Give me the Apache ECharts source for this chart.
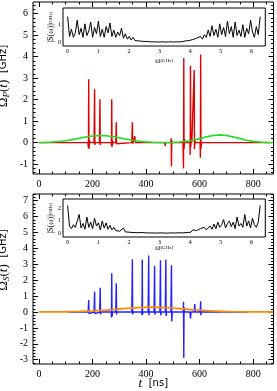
<!DOCTYPE html>
<html><head><meta charset="utf-8">
<script src="https://cdn.jsdelivr.net/npm/echarts@6/dist/echarts.min.js"></script>
<style>html,body{margin:0;padding:0;background:#fff}#c{width:277px;height:391px}</style>
</head><body><div id="c"></div>
<script>
// ---------- DATA ----------
// Top panel: Omega_P(t) pulse train (red) [t ns, value GHz]
const redT = [0,183,185,186,187,189,191,206,208,209,211,226,228,229,231,270,271,272,273,275,277,287,289,290,292,347,349,350,352,356,358,360,470,472,473,493,494,495,496,498,538,540,541,542,544,546,564,565,566,567,569,571,578,580,581,583,585,602,603,604,605,607,870];
const redV = [0,0,-0.25,2.95,-0.3,0.1,0,0,2.48,-0.1,0,0,2.02,-0.1,0,0,-0.15,2.02,-0.2,0.1,0,0,0.95,-0.05,0,0,0.95,-0.05,0,0,0.3,0,0,-0.15,0,0,0.2,-1.1,0.1,0,0,-1.2,3.93,-0.3,0.15,0,0,-0.57,3.58,-0.2,0.2,0,0,3.38,-0.3,0.1,0,0,-0.7,4.1,-0.3,0,0];
// Top panel: smooth envelope (green), sampled every 25 ns from 0
const envT = [0,25,50,75,100,125,150,175,200,225,250,275,300,325,350,375,400,425,450,475,500,525,550,575,600,625,650,675,700,725,750,775,800,825,850,875];
const greenV = [0.005,0.012,0.026,0.05,0.088,0.14,0.2,0.26,0.308,0.33,0.32,0.282,0.225,0.163,0.107,0.064,0.035,0.017,0.008,0.006,0.01,0.025,0.057,0.11,0.185,0.268,0.334,0.36,0.334,0.268,0.185,0.11,0.057,0.025,0.01,0.003];
// Bottom panel: Omega_S(t) pulse train (blue)
const blueT = [110,184,185,186,187,189,206,207,208,209,211,227,228,229,230,232,270,271,272,273,275,287,289,290,292,347,348,349,350,352,384,385,386,387,389,408,410,411,413,430,432,433,435,452,454,455,457,472,474,475,477,493,495,496,498,539,540,541,542,544,564,566,568,580,582,584,602,604,605,607,780];
const blueV = [0,0,-0.1,0.75,-0.1,0,0,-0.1,1.28,-0.1,0,0,-0.1,1.53,-0.15,0,0,-0.35,2.43,-0.3,0,0,1.8,-0.15,0,0,-0.1,3.31,-0.15,0,0,-0.2,3.3,-0.15,0,0,3.55,-0.2,0,0,2.9,-0.15,0,0,3.25,-0.2,0,0,3.3,-0.25,0,0,2.94,-0.6,0,0,0.65,-2.9,0.3,0,0,-0.4,0,0,0.5,0,0,0.67,-0.2,0,0];
// Bottom panel: smooth envelope (orange), same sampling as envT
const orangeV = [0.002,0.0033,0.0057,0.0094,0.015,0.023,0.035,0.05,0.07,0.095,0.123,0.155,0.189,0.222,0.252,0.276,0.293,0.3,0.296,0.278,0.249,0.213,0.174,0.135,0.115,0.088,0.065,0.047,0.032,0.021,0.013,0.008,0.005,0.003,0.002,0.001];
// Insets: spectra |S(omega)|, 101 samples over omega in [0, 2pi]
const omegaStep = 2 * Math.PI / 100;
const specP = [1.45,0.35,0.75,0.3,0.55,1.25,0.45,0.8,0.3,1.05,
  0.4,0.65,1.15,0.3,0.85,0.5,1.2,0.35,0.75,0.3,
  0.9,0.55,1.1,0.35,0.7,0.3,0.6,0.4,0.8,0.25,
  0.5,0.2,0.35,0.15,0.3,0.12,0.22,0.1,0.15,0.08,
  0.12,0.07,0.1,0.05,0.08,0.05,0.07,0.04,0.06,0.05,
  0.07,0.04,0.06,0.05,0.07,0.04,0.06,0.05,0.08,0.05,
  0.07,0.1,0.06,0.12,0.08,0.18,0.1,0.25,0.15,0.35,
  0.2,0.45,0.3,0.7,0.35,0.95,0.4,0.75,0.3,1.05,
  0.45,0.85,0.35,1.2,0.5,0.9,0.3,1.15,0.4,0.7,
  0.35,1.0,0.3,0.8,0.5,1.25,0.6,0.3,0.9,0.45,1.45];
const specS = [2.2,0.6,0.4,0.7,0.5,1.0,1.5,0.45,0.8,0.35,
  1.3,0.5,0.9,0.4,1.2,0.6,0.85,0.3,1.0,0.45,
  0.85,0.35,0.65,0.3,0.5,0.25,0.4,0.2,0.35,0.45,
  0.15,0.3,0.12,0.25,0.1,0.18,0.08,0.15,0.1,0.12,
  0.08,0.1,0.06,0.12,0.07,0.09,0.05,0.1,0.07,0.08,
  0.06,0.09,0.05,0.1,0.07,0.08,0.06,0.1,0.08,0.12,
  0.07,0.15,0.1,0.2,0.12,0.3,0.15,0.25,0.2,0.4,
  0.25,0.5,0.3,0.45,0.6,0.35,0.75,0.4,0.9,0.5,
  0.7,1.1,0.45,0.8,1.0,0.55,0.9,0.4,1.3,0.6,
  0.8,0.5,1.5,0.6,1.0,0.45,1.2,0.7,0.5,0.9,2.2];
// Tick labels
const tTicks = [0,200,400,600,800];
const yTopTicks = [-1,0,1,2,3,4,5,6];
const yBotTicks = [-3,-2,-1,0,1,2,3,4,5,6,7];
const wTicks = [0,1,2,3,4,5,6];
const sTopTicks = [0,1];
const sBotTicks = [0,1,2];

// ---------- BUILD ----------
function range(a, b, s) { const r = []; for (let v = a; v <= b + 1e-9; v += s) r.push(Math.round(v * 1000) / 1000); return r; }
function pairs(xs, ys) { return xs.map((x, i) => [x, ys[i]]); }
function specPairs(ys) { return ys.map((y, i) => [i * omegaStep, y]); }

const SERIF = 'Liberation Serif';
const xAxes = [], yAxes = [];
function addAxes(list, dim, grid, min, max, majors, minors, L, l, label, name) {
  const pos = dim === 'x' ? ['bottom', 'top'] : ['left', 'right'];
  const first = list.length;
  pos.forEach((p, pi) => {
    [[majors, L], [minors, l]].forEach(([vals, len], k) => {
      const ax = {
        type: 'value', gridIndex: grid, min, max, position: p,
        nameMoveOverlap: false,
        axisLine: { show: false, onZero: false },
        splitLine: { show: false },
        axisTick: { show: true, inside: true, length: len, customValues: vals, lineStyle: { color: '#000', width: 1 } },
        axisLabel: { show: false }
      };
      if (pi === 0 && k === 0) {
        ax.axisLabel = Object.assign({ show: true, customValues: vals, color: '#000', fontFamily: SERIF, hideOverlap: false }, label);
        if (name) Object.assign(ax, name);
      }
      list.push(ax);
    });
  });
  return first;
}

const gbase = { show: true, borderColor: '#000', borderWidth: 1, outerBoundsMode: 'none', containLabel: false };
const grids = [
  Object.assign({ left: 33, top: 2, width: 240.5, height: 172, backgroundColor: 'transparent', z: 1 }, gbase),
  Object.assign({ left: 33, top: 194, width: 240.5, height: 170, backgroundColor: 'transparent', z: 1 }, gbase),
  Object.assign({ left: 63, top: 8, width: 202.3, height: 38, backgroundColor: '#fff', z: 3 }, gbase),
  Object.assign({ left: 63, top: 199, width: 202.3, height: 38, backgroundColor: '#fff', z: 3 }, gbase)
];

const mainLbl = { fontSize: 10, margin: 5 };
const insLbl = { fontSize: 6, margin: 2 };
const richMain = {
  a: { fontFamily: SERIF, fontSize: 13, color: '#000' },
  s: { fontFamily: SERIF, fontSize: 9, fontStyle: 'italic', color: '#000', padding: [6, 0, 0, 0] },
  i: { fontFamily: SERIF, fontSize: 13, fontStyle: 'italic', color: '#000' },
  g: { fontFamily: 'DejaVu Sans', fontSize: 10, color: '#000' }
};
const richIns = {
  a: { fontFamily: SERIF, fontSize: 8, color: '#000' },
  g: { fontFamily: SERIF, fontSize: 5, color: '#000' }
};

const x0 = addAxes(xAxes, 'x', 0, -22, 876, tTicks, range(0, 850, 50), 5, 2.5, mainLbl);
const x1 = addAxes(xAxes, 'x', 1, -22, 876, tTicks, range(0, 850, 50), 5, 2.5, mainLbl,
  { name: '{i|t}  {g|[ns]}', nameLocation: 'middle', nameGap: 13, nameTextStyle: { rich: richMain } });
const x2 = addAxes(xAxes, 'x', 2, -0.15, 6.45, wTicks, range(0, 6.25, 0.25), 3, 1.5, insLbl,
  { name: '{a|ω}{g|[GHz]}', nameLocation: 'middle', nameGap: 11, nameTextStyle: { rich: richIns } });
const x3 = addAxes(xAxes, 'x', 3, -0.15, 6.45, wTicks, range(0, 6.25, 0.25), 3, 1.5, insLbl,
  { name: '{a|ω}{g|[GHz]}', nameLocation: 'middle', nameGap: 7, nameTextStyle: { rich: richIns } });

const y0 = addAxes(yAxes, 'y', 0, -1.46, 6.54, yTopTicks, range(-1.4, 6.4, 0.2), 5, 2.5, mainLbl,
  { name: '{a|Ω}{s|P}{a|(}{i|t}{a|)}  {g|[GHz]}', nameLocation: 'middle', nameGap: 22, nameRotate: 90,
    nameTextStyle: { rich: richMain, padding: [0, 0, 0, 24] } });
const y1 = addAxes(yAxes, 'y', 1, -3.27, 7.42, yBotTicks, range(-3.2, 7.4, 0.2), 5, 2.5, mainLbl,
  { name: '{a|Ω}{s|S}{a|(}{i|t}{a|)}  {g|[GHz]}', nameLocation: 'middle', nameGap: 22, nameRotate: 90,
    nameTextStyle: { rich: richMain, padding: [0, 0, 0, 38] } });
const y2 = addAxes(yAxes, 'y', 2, -0.18, 1.93, sTopTicks, range(0, 1.75, 0.25), 3, 1.5, insLbl,
  { name: '{a||S(ω)|}{g|[GHz]}', nameLocation: 'middle', nameGap: 8, nameRotate: 90, nameTextStyle: { rich: richIns } });
const y3 = addAxes(yAxes, 'y', 3, -0.25, 2.7, sBotTicks, range(0, 2.5, 0.25), 3, 1.5, insLbl,
  { name: '{a||S(ω)|}{g|[GHz]}', nameLocation: 'middle', nameGap: 8, nameRotate: 90, nameTextStyle: { rich: richIns } });

const line = (data, xi, yi, color, w, z) => ({
  type: 'line', data, xAxisIndex: xi, yAxisIndex: yi, showSymbol: false, symbol: 'none',
  lineStyle: { color, width: w }, animation: false, z: z || 2, clip: true
});

const option = {
  animation: false,
  backgroundColor: '#fff',
  grid: grids,
  xAxis: xAxes,
  yAxis: yAxes,
  series: [
    line(pairs(redT, redV), x0, y0, '#e00000', 1.4, 2),
    line(pairs(envT, greenV), x0, y0, '#22dd22', 1.6, 3),
    line(pairs(blueT, blueV), x1, y1, '#2222ff', 1.4, 2),
    line(pairs(envT, orangeV), x1, y1, '#ff8c00', 1.8, 3),
    line(specPairs(specP), x2, y2, '#000', 1, 5),
    line(specPairs(specS), x3, y3, '#000', 1, 5)
  ]
};
const chart = echarts.init(document.getElementById('c'), null, { renderer: 'canvas' });
chart.setOption(option);
</script></body></html>
